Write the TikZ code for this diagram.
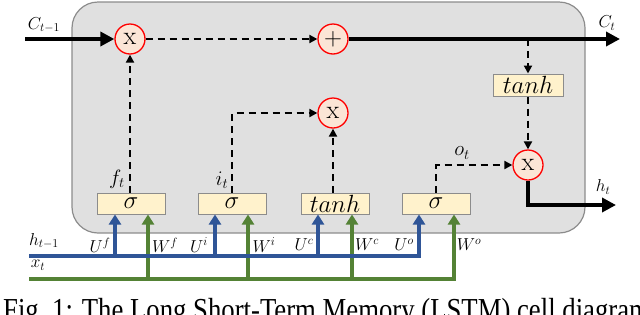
\documentclass[tikz,border=0pt]{standalone}
\usepackage{graphicx}
\usepackage{fontspec}
\newfontfamily\capfont{Liberation Serif}
\usetikzlibrary{arrows.meta,calc}
\definecolor{cellgray}{HTML}{E0E0E0}
\definecolor{cellborder}{HTML}{8C8C8C}
\definecolor{boxfill}{HTML}{FFF2CC}
\definecolor{boxborder}{HTML}{8C8C8C}
\definecolor{circfill}{HTML}{FBE5D6}
\definecolor{hblue}{HTML}{2F5597}
\definecolor{xgreen}{HTML}{548235}
\begin{document}
\begin{tikzpicture}[x=1pt,y=-1pt,
  op/.style={circle,draw=red,line width=1.3pt,fill=circfill,minimum size=30pt,inner sep=0pt,font=\fontsize{26}{26}\selectfont},
  gate/.style={draw=boxborder,line width=1pt,fill=boxfill,minimum width=68pt,minimum height=21pt,inner sep=0pt,font=\fontsize{25}{25}\selectfont},
  dsh/.style={draw=black,line width=2pt,dash pattern=on 7pt off 5pt,-{Triangle[length=8pt,width=8pt]}},
  bold/.style={draw=black,line width=4.5pt,-{Triangle[length=14pt,width=14pt]}},
  bluearr/.style={draw=hblue,line width=3.5pt,-{Triangle[length=10pt,width=12pt]}},
  greenarr/.style={draw=xgreen,line width=3.5pt,-{Triangle[length=10pt,width=12pt]}},
  lbl/.style={inner sep=0pt,font=\fontsize{17}{17}\selectfont},
  glbl/.style={inner sep=0pt,font=\fontsize{20}{20}\selectfont}
]
\useasboundingbox (0,0) rectangle (640,314);
\begin{scope}
\clip (0,0) rectangle (640,314);
% cell
\draw[fill=cellgray,draw=cellborder,line width=1.2pt,rounded corners=26pt] (72,2) rectangle (585,233);

% operators
\node[op] (m1) at (130,39) {x};
\node[op] (add) at (333,39) {$+$};
\node[op] (m2) at (333,113) {x};
\node[op] (m3) at (528,165) {x};
\node[gate,minimum width=70pt,minimum height=22pt,font=\fontsize{24}{24}\selectfont] (tc) at (528,85) {$tanh$};

% gates
\node[gate] (g1) at (131,203.5) {$\sigma$};
\node[gate] (g2) at (232,203.5) {$\sigma$};
\node[gate,font=\fontsize{23}{23}\selectfont] (g3) at (335,203.5) {$tanh$};
\node[gate] (g4) at (436,203.5) {$\sigma$};

% cell state
\coordinate (cin) at (25,39);
\coordinate (cout) at (620,39);
\coordinate (split) at (528,39);
\coordinate (hout) at (616,205);
\draw[bold] (cin) -- (m1.west);
\draw[dsh] (m1.east) -- (add.west);
\draw[bold] (add.east) -- (cout);
\draw[dsh] (split) -- (tc.north);
\draw[dsh] (tc.south) -- (m3.north);
\draw[dsh] (g1.north -| m1) -- (m1.south);
\draw[dsh] (g2.north) |- (m2.west);
\draw[dsh] (g3.north -| m2) -- (m2.south);
\draw[dsh] (g4.north) |- (m3.west);
\draw[bold] (m3.south) |- (hout);

% labels
\node[lbl] (lc) at (44,25) {$C_{t-1}$};
\node[lbl] (lct) at (607,23) {$C_t$};
\node[lbl] (lht) at (603,187) {$h_t$};
\node[glbl] (lf) at (117,179) {$f_t$};
\node[glbl] (li) at (222,180) {$i_t$};
\node[glbl] (lo) at (462,153) {$o_t$};

% inputs
\coordinate (hin) at (29,256);
\coordinate (xin) at (29,279);
\coordinate (u1) at ($(g1.south)+(-16,0)$);
\coordinate (u2) at ($(g2.south)+(-17,0)$);
\coordinate (u3) at ($(g3.south)+(-17,0)$);
\coordinate (u4) at ($(g4.south)+(-17,0)$);
\coordinate (w1) at ($(g1.south)+(17,0)$);
\coordinate (w2) at ($(g2.south)+(16,0)$);
\coordinate (w3) at ($(g3.south)+(17,0)$);
\coordinate (w4) at ($(g4.south)+(18,0)$);

\draw[greenarr] (xin) -| (w4);
\draw[greenarr] (xin -| w1) -- (w1);
\draw[greenarr] (xin -| w2) -- (w2);
\draw[greenarr] (xin -| w3) -- (w3);
\draw[bluearr] (hin) -| (u4);
\draw[bluearr] (hin -| u1) -- (u1);
\draw[bluearr] (hin -| u2) -- (u2);
\draw[bluearr] (hin -| u3) -- (u3);

\node[lbl] (lh) at (44,241) {$h_{t-1}$};
\node[lbl] (lx) at (38,265) {$x_t$};
\node[lbl] (luf) at (100,245) {$U^f$};
\node[lbl] (lwf) at (165,245) {$W^f$};
\node[lbl] (lui) at (199,245) {$U^i$};
\node[lbl] (lwi) at (264,245) {$W^i$};
\node[lbl] (luc) at (304,245) {$U^c$};
\node[lbl] (lwc) at (367,245) {$W^c$};
\node[lbl] (luo) at (404,245) {$U^o$};
\node[lbl] (lwo) at (469,245) {$W^o$};

% caption (cut by the frame)
\node[anchor=base west,inner sep=0pt,font=\capfont\fontsize{32}{32}\selectfont] (cap) at (3,320) {\scalebox{0.835}[1]{Fig.\ 1: The Long Short-Term Memory (LSTM) cell diagram.}};
\end{scope}
\end{tikzpicture}
\end{document}
